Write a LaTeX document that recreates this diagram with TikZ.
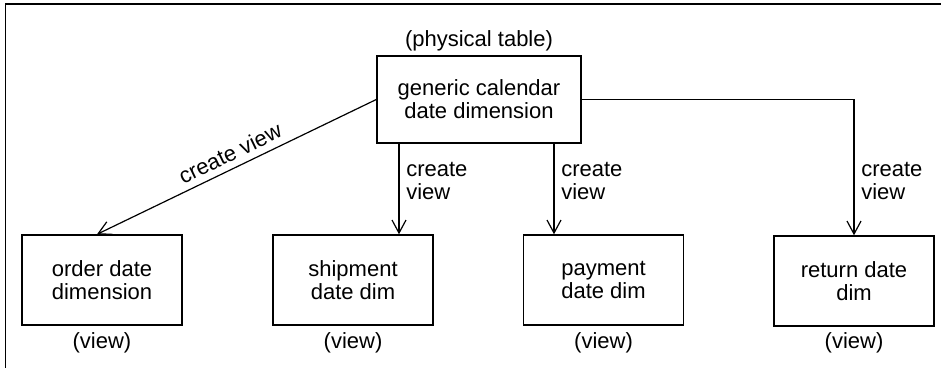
\documentclass[tikz,border=0pt]{standalone}
\usepackage{fontspec}
\setmainfont{Liberation Sans}
\usetikzlibrary{arrows.meta}
\usetikzlibrary{positioning}

\begin{document}
\begin{tikzpicture}[x=.5pt, y=-.5pt, >={Straight Barb[length=6.5pt,width=7pt]},
  every node/.style={font=\fontsize{11}{11.5}\selectfont, align=center},
  dimbox/.style={draw, line width=.7pt, minimum width=80pt, minimum height=45pt, inner sep=0pt},
  link/.style={line width=.6pt, ->}]
\useasboundingbox (0,0) rectangle (941,368);
\draw[line width=.7pt] (5.5,372) |- (945,4);
% the table and its views
\node[dimbox, minimum width=102pt, minimum height=43.5pt] (generic) at (479,99.5) {generic calendar\\date dimension};
\node (physical) at (479,41) {(physical table)};
\node[dimbox] (order) at (102,280) {order date\\dimension};
\node[dimbox] (shipment) at (353,280) {shipment\\date dim};
\node[dimbox] (payment) at (603.5,280) {payment\\date dim};
\node[dimbox] (return) at (854,281) {return date\\dim};
\foreach \n/\x in {order/102, shipment/353, payment/603.5, return/854} {
  \node (\n view) at (\x,343) {(view)};
}
% arrows
\coordinate (shipin) at ([xshift=23pt]shipment.north);
\coordinate (payin) at ([xshift=-24.75pt]payment.north);
\draw[link] (generic.west) -- ([xshift=-2.5pt]order.north) node[midway, above, sloped] {create view};
\draw[link] (generic.south -| shipin) -- (shipin) node[pos=.41, right, align=left] {create\\view};
\draw[link] (generic.south -| payin) -- (payin) node[pos=.41, right, align=left] {create\\view};
\draw[link] (generic.east) -| (return.north) node[pos=.8, right, align=left] {create\\view};
\end{tikzpicture}
\end{document}
